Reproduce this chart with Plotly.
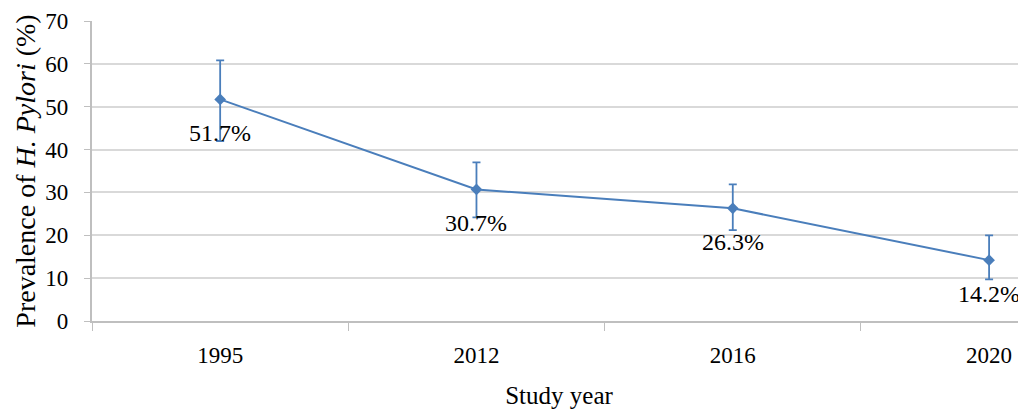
import plotly.graph_objects as go

years = ["1995", "2012", "2016", "2020"]
prevalence = [51.7, 30.7, 26.3, 14.2]
err_plus = [9.1, 6.3, 5.6, 5.8]
err_minus = [9.7, 6.5, 5.1, 4.5]
labels = ["51.7%", "30.7%", "26.3%", "14.2%"]

blue = "#4a7ebb"
serif = "Liberation Serif"

fig = go.Figure()
fig.add_trace(go.Scatter(
    x=years, y=prevalence,
    mode="lines+markers",
    line=dict(color=blue, width=2),
    marker=dict(symbol="diamond", size=9, color=blue),
    error_y=dict(type="data", symmetric=False, array=err_plus, arrayminus=err_minus,
                 color=blue, thickness=1.8, width=4),
    showlegend=False,
))

for i, (y, t) in enumerate(zip(prevalence, labels)):
    fig.add_annotation(x=i, y=y, xref="x", yref="y", text=t, showarrow=False, yshift=-34,
                       xanchor="center", yanchor="middle",
                       font=dict(family=serif, size=24, color="black"))

fig.update_layout(
    width=1026, height=409,
    margin=dict(l=84, r=8, t=13, b=96),
    paper_bgcolor="white", plot_bgcolor="white",
    font=dict(family=serif, color="black"),
)
fig.update_xaxes(
    type="category", range=[-0.5, 3.144], automargin=False,
    showgrid=False, showline=True, linecolor="#bfbfbf", linewidth=1.5,
    ticks="outside", tickson="boundaries", ticklen=8, tickcolor="#bfbfbf",
    tickfont=dict(family=serif, size=23), ticklabelstandoff=13,
    title=dict(text="Study year", font=dict(family=serif, size=25), standoff=19),
)
fig.update_yaxes(
    range=[0, 70], dtick=10, automargin=False,
    showgrid=True, gridcolor="#d9d9d9", gridwidth=1.5,
    showline=True, linecolor="#bfbfbf", linewidth=1.5,
    ticks="outside", ticklen=6, tickcolor="#bfbfbf",
    tickfont=dict(family=serif, size=23), zeroline=False,
    ticksuffix="\u00a0\u00a0",
    title=dict(text="Prevalence of <i>H. Pylori</i> (%)", font=dict(family=serif, size=28), standoff=1),
)

fig.write_html("out.html")
